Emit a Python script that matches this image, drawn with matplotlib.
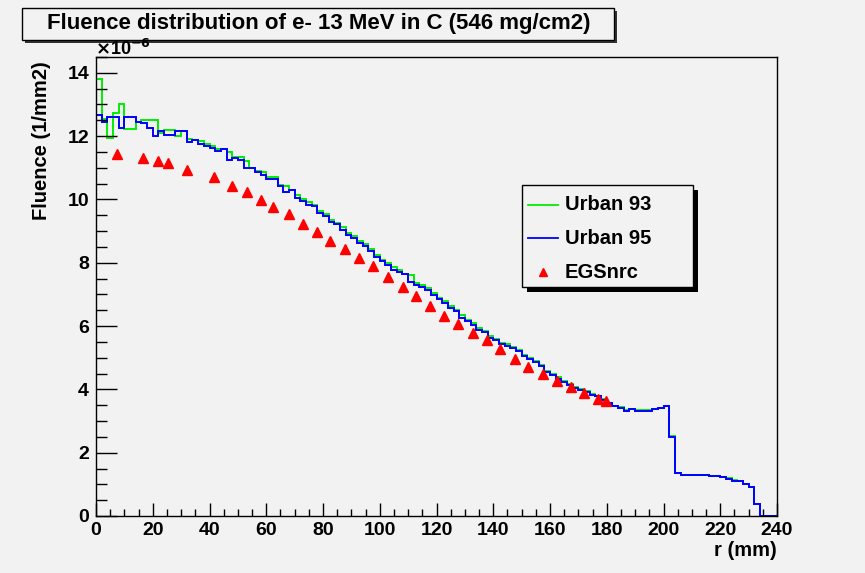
import numpy as np
import matplotlib.pyplot as plt
from matplotlib.patches import Rectangle
from matplotlib.lines import Line2D

W, H = 865, 573

# histogram bins: 2 mm wide, 0..240 mm, values in units of 1e-6 /mm2
bin_edges = np.arange(0, 242, 2)

urban95 = [12.67, 12.46, 12.62, 12.62, 12.27, 12.62, 12.62, 12.45, 12.40, 12.27,
           12.00, 12.17, 12.03, 12.03, 12.15, 12.17, 11.81, 11.88, 11.76, 11.70,
           11.64, 11.53, 11.58, 11.24, 11.30, 11.24, 10.98, 10.98, 10.87, 10.77,
           10.65, 10.65, 10.42, 10.23, 10.30, 10.05, 9.95, 9.84, 9.79, 9.58,
           9.47, 9.29, 9.21, 9.05, 8.89, 8.79, 8.63, 8.52, 8.36, 8.18,
           8.05, 7.94, 7.78, 7.72, 7.66, 7.38, 7.31, 7.24, 7.13, 6.99,
           6.84, 6.73, 6.57, 6.47, 6.26, 6.15, 6.04, 5.89, 5.80, 5.62,
           5.57, 5.42, 5.37, 5.30, 5.20, 5.06, 4.96, 4.86, 4.73, 4.54,
           4.46, 4.33, 4.22, 4.15, 4.04, 3.99, 3.93, 3.83, 3.78, 3.67,
           3.57, 3.46, 3.41, 3.33, 3.38, 3.33, 3.33, 3.33, 3.37, 3.41,
           3.49, 2.51, 1.35, 1.30, 1.28, 1.28, 1.28, 1.30, 1.27, 1.27,
           1.22, 1.17, 1.12, 1.10, 1.00, 0.93, 0.38, 0.0, 0.0, 0.0]

urban93 = [13.80, 12.53, 11.95, 12.74, 13.00, 12.22, 12.22, 12.45, 12.50, 12.50,
           12.50, 12.11, 12.20, 12.20, 12.00, 12.15, 11.90, 11.88, 11.85, 11.76,
           11.70, 11.60, 11.58, 11.50, 11.34, 11.34, 11.21, 11.00, 10.90, 10.86,
           10.71, 10.71, 10.47, 10.42, 10.30, 10.15, 10.00, 9.92, 9.84, 9.65,
           9.55, 9.36, 9.26, 9.12, 8.95, 8.85, 8.70, 8.58, 8.42, 8.25,
           8.10, 8.00, 7.86, 7.76, 7.66, 7.60, 7.36, 7.30, 7.20, 7.05,
           6.90, 6.80, 6.62, 6.52, 6.34, 6.20, 6.10, 5.94, 5.85, 5.68,
           5.60, 5.47, 5.42, 5.33, 5.24, 5.10, 5.00, 4.90, 4.76, 4.58,
           4.50, 4.38, 4.25, 4.18, 4.08, 4.00, 3.95, 3.85, 3.80, 3.69,
           3.58, 3.48, 3.43, 3.34, 3.38, 3.34, 3.35, 3.35, 3.37, 3.42,
           3.49, 2.53, 1.35, 1.30, 1.30, 1.30, 1.29, 1.30, 1.27, 1.27,
           1.22, 1.19, 1.14, 1.10, 1.00, 0.93, 0.38, 0.0, 0.0, 0.0]

egs_r = [7.3, 16.7, 21.7, 25.5, 32.0, 41.6, 47.8, 53.3, 58.0, 62.3,
         68.0, 73.1, 78.0, 82.5, 87.7, 92.8, 97.7, 102.8, 108.1, 112.8,
         117.7, 122.8, 127.7, 132.8, 137.7, 142.4, 147.5, 152.4, 157.5, 162.4,
         167.4, 172.1, 176.8, 179.8]
egs_fluence = [11.45, 11.32, 11.21, 11.14, 10.93, 10.71, 10.42, 10.23, 9.97, 9.76,
               9.53, 9.22, 8.98, 8.70, 8.43, 8.15, 7.89, 7.54, 7.23, 6.94,
               6.62, 6.33, 6.08, 5.78, 5.55, 5.27, 4.96, 4.72, 4.49, 4.25,
               4.06, 3.88, 3.70, 3.64]

title = 'Fluence distribution of e- 13 MeV in C (546 mg/cm2)'
labels = ['Urban 93', 'Urban 95', 'EGSnrc']
colors = ['#00ee00', '#0000ff', '#ff0000']

plt.rcParams['font.family'] = ['Liberation Sans', 'DejaVu Sans']
plt.rcParams['font.weight'] = 'bold'
bg = '#f2f2f2'


def fx(px):
    return px / W


def fy(py):
    return 1 - py / H


fig = plt.figure(figsize=(W / 100, H / 100), dpi=100, facecolor=bg)
ax = fig.add_axes([fx(96), fy(516), (777 - 96) / W, (516 - 57) / H])
ax.set_facecolor(bg)

ax.stairs(urban93, bin_edges, color=colors[0], lw=1.4)
ax.stairs(urban95, bin_edges, color=colors[1], lw=1.4)
ax.plot(egs_r, egs_fluence, ls='none', marker='^', ms=7, color=colors[2])

ax.set_xlim(0, 240)
ax.set_ylim(0, 14.5)
ax.set_xticks(np.arange(0, 241, 20))
ax.set_xticks(np.arange(0, 241, 5), minor=True)
ax.set_yticks(np.arange(0, 15, 2))
ax.set_yticks(np.arange(0, 14.6, 0.5), minor=True)
ax.tick_params(axis='both', which='both', direction='in', width=1, labelsize=14,
               top=False, right=False)
ax.tick_params(axis='y', which='major', length=15, pad=5)
ax.tick_params(axis='y', which='minor', length=8)
ax.tick_params(axis='x', which='major', length=9.5, pad=4)
ax.tick_params(axis='x', which='minor', length=5)
for s in ax.spines.values():
    s.set_linewidth(1)

fig.text(fx(777), fy(551), 'r (mm)', ha='right', va='center', fontsize=14.5)
fig.text(fx(42), fy(61), 'Fluence (1/mm2)', ha='center', va='top', rotation=90, fontsize=14.5)
fig.text(fx(95), fy(49), r'$\times$10$^{-6}$', ha='left', va='center', fontsize=13)

# title box with shadow
fig.patches.append(Rectangle((fx(25), fy(43)), 592 / W, 32 / H, transform=fig.transFigure,
                             facecolor='#333333', edgecolor='none', zorder=1))
fig.patches.append(Rectangle((fx(22), fy(40)), 592 / W, 32 / H, transform=fig.transFigure,
                             facecolor=bg, edgecolor='black', lw=1, zorder=2))
fig.text(fx(319), fy(24), title, ha='center', va='center', fontsize=16, zorder=3)

# legend box with shadow
fig.patches.append(Rectangle((fx(527), fy(292)), 171 / W, 102 / H, transform=fig.transFigure,
                             facecolor='black', edgecolor='none', zorder=4))
fig.patches.append(Rectangle((fx(522), fy(287)), 171 / W, 102 / H, transform=fig.transFigure,
                             facecolor=bg, edgecolor='black', lw=1, zorder=5))
ys = [205, 238, 272]
fig.lines.append(Line2D([fx(528), fx(558)], [fy(ys[0])] * 2, transform=fig.transFigure,
                        color=colors[0], lw=1.3, zorder=6))
fig.lines.append(Line2D([fx(528), fx(558)], [fy(ys[1])] * 2, transform=fig.transFigure,
                        color=colors[1], lw=1.3, zorder=6))
fig.lines.append(Line2D([fx(543)], [fy(ys[2])], transform=fig.transFigure, ls='none',
                        marker='^', ms=6, color=colors[2], zorder=6))
for lab, yy in zip(labels, ys):
    fig.text(fx(565), fy(yy), lab, ha='left', va='center', fontsize=14.5, zorder=7)

fig.savefig('out.png', dpi=100, facecolor=bg)
